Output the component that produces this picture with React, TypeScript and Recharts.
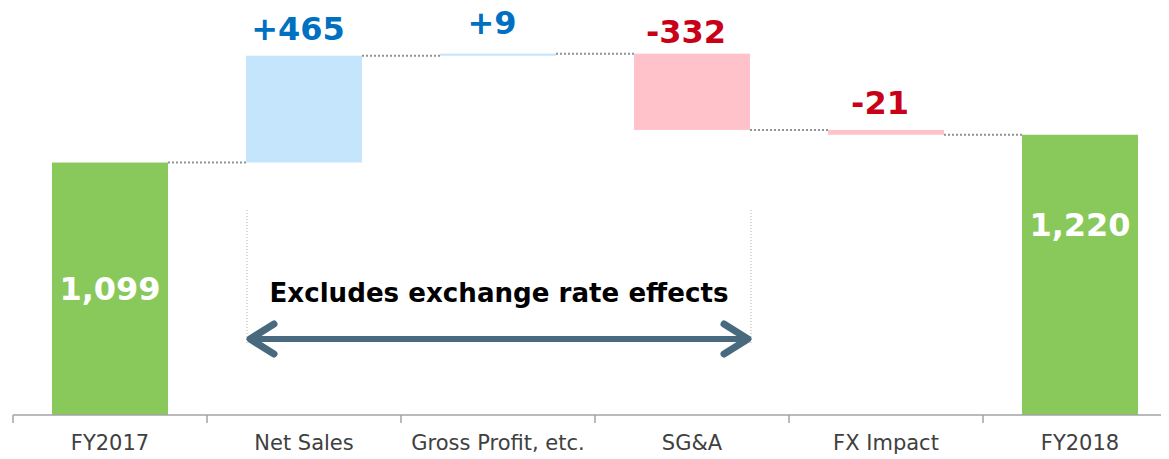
import React from 'react';
import { BarChart, Bar, XAxis, YAxis } from 'recharts';

// waterfall data
const categories = ['FY2017', 'Net Sales', 'Gross Profit, etc.', 'SG&A', 'FX Impact', 'FY2018'];
const amounts = [1099, 465, 9, -332, -21, 1220];
const totals = [true, false, false, false, false, true];
const valueLabels = ['1,099', '+465', '+9', '-332', '-21', '1,220'];
const yDomain = [0, 1750];

const annotationText = 'Excludes exchange rate effects';

// layout (svg sits at the page's top edge, body margin cancelled)
const CHART_W = 1174;
const CHART_H = 459;
const MARGIN = { top: 13, right: 5, left: 5, bottom: 0 };
const X_AXIS_H = 44;
const BAND = (CHART_W - MARGIN.left - MARGIN.right) / categories.length;
const BAR_SIZE = 116;
const PLOT_BOTTOM = CHART_H - MARGIN.bottom - X_AXIS_H;

const GREEN = '#89C95B';
const BLUE = '#C4E5FB';
const PINK = '#FFC2CA';
const UP_TEXT = '#0070C0';
const DOWN_TEXT = '#C80018';
const FONT = '"DejaVu Sans", Verdana, sans-serif';

// small hand nudges for the value labels (px)
const labelNudge: Record<string, number> = {
    'Gross Profit, etc.': -4,
    'SG&A': 5,
    'FY2018': -50,
};

let running = 0;
const data = categories.map((name, i) => {
    const amount = amounts[i];
    let range: [number, number];
    if (totals[i]) {
        range = [0, amount];
        running = amount;
    } else {
        const start = running;
        running = start + amount;
        range = [Math.min(start, running), Math.max(start, running)];
    }
    return { name, amount, total: totals[i], label: valueLabels[i], range };
});

const WaterfallBar = (props: any) => {
    const { x, y, width, height, index } = props;
    const d = data[index];
    const top = Math.min(y, y + height);
    const h = Math.abs(height);
    const up = d.total || d.amount >= 0;
    const fill = d.total ? GREEN : d.amount >= 0 ? BLUE : PINK;
    const endY = up ? top : top + h;
    const cx = x + width / 2;
    const nudge = labelNudge[d.name] || 0;
    return (
        <g>
            <rect x={x} y={top} width={width} height={Math.max(h, 1.5)} fill={fill} />
            {index < data.length - 1 && (
                <line
                    x1={x + width}
                    x2={x + BAND}
                    y1={endY}
                    y2={endY}
                    stroke="#8d939b"
                    strokeWidth={2}
                    strokeDasharray="2 2"
                />
            )}
            {d.total ? (
                <text
                    x={cx}
                    y={top + h / 2 + nudge}
                    dy="0.36em"
                    textAnchor="middle"
                    fill="#ffffff"
                    fontFamily={FONT}
                    fontWeight="bold"
                    fontSize={32}
                >
                    {d.label}
                </text>
            ) : (
                <text
                    x={cx - 6}
                    y={top - 16 + nudge}
                    textAnchor="middle"
                    fill={d.amount >= 0 ? UP_TEXT : DOWN_TEXT}
                    fontFamily={FONT}
                    fontWeight="bold"
                    fontSize={32}
                >
                    {d.label}
                </text>
            )}
        </g>
    );
};

const CategoryTick = (props: any) => {
    const { x, payload } = props;
    return (
        <g>
            <line x1={x - BAND / 2} x2={x - BAND / 2} y1={PLOT_BOTTOM} y2={PLOT_BOTTOM + 8} stroke="#a3a3a3" strokeWidth={1.5} />
            <text
                x={x}
                y={PLOT_BOTTOM + 35}
                textAnchor="middle"
                fill="#404040"
                fontFamily={FONT}
                fontSize={21}
            >
                {payload.value}
            </text>
        </g>
    );
};

const Annotation = () => {
    const left = MARGIN.left + BAND + (BAND - BAR_SIZE) / 2 + 1;
    const right = MARGIN.left + 3 * BAND + (BAND - BAR_SIZE) / 2 + BAR_SIZE + 1;
    const arrowY = 339;
    const color = '#48697E';
    return (
        <svg
            width={CHART_W}
            height={CHART_H}
            style={{ position: 'absolute', left: 0, top: 0, pointerEvents: 'none' }}
        >
            <line x1={left} x2={left} y1={210} y2={345} stroke="#b0b0b0" strokeWidth={1} strokeDasharray="1 2" />
            <line x1={right} x2={right} y1={210} y2={345} stroke="#b0b0b0" strokeWidth={1} strokeDasharray="1 2" />
            <text
                x={(left + right) / 2}
                y={302}
                textAnchor="middle"
                fill="#000000"
                fontFamily={FONT}
                fontWeight="bold"
                fontSize={27}
                textLength={459}
                lengthAdjust="spacingAndGlyphs"
            >
                {annotationText}
            </text>
            <line x1={left + 4} x2={right - 4} y1={arrowY} y2={arrowY} stroke={color} strokeWidth={6} />
            <polyline
                points={`${left + 27},${arrowY - 15} ${left + 3},${arrowY} ${left + 27},${arrowY + 15}`}
                fill="none"
                stroke={color}
                strokeWidth={7}
                strokeLinecap="round"
                strokeLinejoin="round"
            />
            <polyline
                points={`${right - 27},${arrowY - 15} ${right - 3},${arrowY} ${right - 27},${arrowY + 15}`}
                fill="none"
                stroke={color}
                strokeWidth={7}
                strokeLinecap="round"
                strokeLinejoin="round"
            />
        </svg>
    );
};

export default function App() {
    return (
        <div
            style={{
                position: 'relative',
                width: 1161,
                height: CHART_H,
                marginTop: -8,
                overflow: 'hidden',
                background: '#fff',
            }}
        >
            <BarChart width={CHART_W} height={CHART_H} data={data} margin={MARGIN}>
                <XAxis
                    dataKey="name"
                    height={X_AXIS_H}
                    interval={0}
                    tickLine={false}
                    axisLine={{ stroke: '#a3a3a3', strokeWidth: 1.5 }}
                    tick={<CategoryTick />}
                />
                <YAxis hide domain={yDomain} />
                <Bar
                    dataKey="range"
                    barSize={BAR_SIZE}
                    shape={<WaterfallBar />}
                    isAnimationActive={false}
                />
            </BarChart>
            <Annotation />
        </div>
    );
}
